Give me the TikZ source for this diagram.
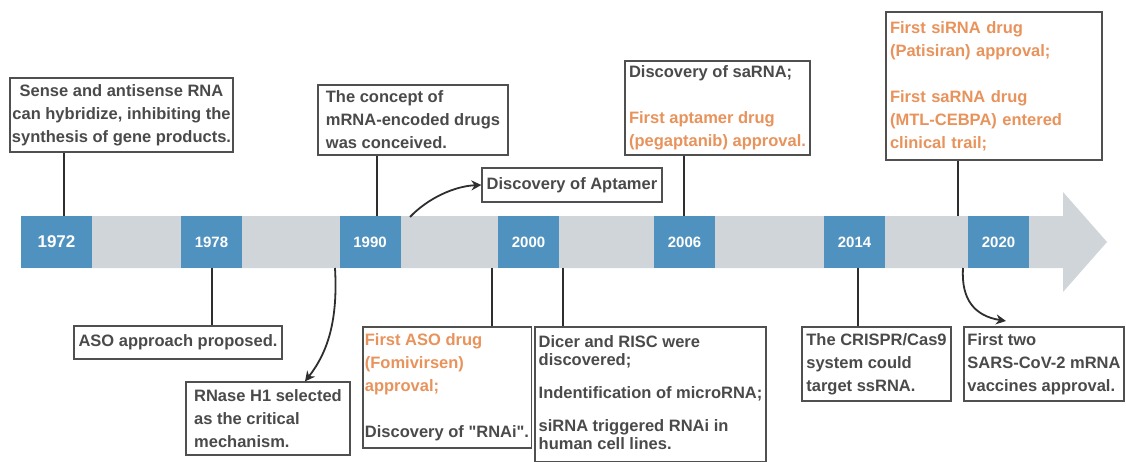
\documentclass[tikz,border=0pt]{standalone}
\usepackage{fontspec}
\setmainfont{Liberation Sans}[Ligatures=TeXOff]
\usepackage{xcolor}
\usetikzlibrary{arrows.meta}
\definecolor{INK}{HTML}{4A4A4A}
\definecolor{EDGE}{HTML}{505050}
\definecolor{STEM}{HTML}{2E2E2E}
\definecolor{BAND}{HTML}{CFD5D9}
\definecolor{YEAR}{HTML}{5092BF}
\definecolor{HILITE}{HTML}{E8935C}

\begin{document}
\begin{tikzpicture}[
    x=1pt, y=-1pt,
    note/.style={draw=EDGE, line width=1.2pt, fill=white, text=INK,
      font=\fontsize{16.5}{23}\selectfont\bfseries, align=left,
      inner xsep=2pt, inner ysep=3pt},
    yearbox/.style={fill=YEAR, text=white, font=\fontsize{15}{16}\selectfont\bfseries,
      minimum width=61pt, minimum height=52pt, inner sep=0pt},
    stem/.style={draw=STEM, line width=1.8pt},
    pointer/.style={draw=STEM, line width=1.8pt, -{Stealth[length=10pt,width=10pt]}},
  ]

  \useasboundingbox (0,0) rectangle (1126,461);

  % --- time arrow ---
  \fill[BAND] (21,216) -- (1063,216) -- (1063,192) -- (1107,242)
    -- (1063,292) -- (1063,268) -- (21,268) -- cycle;

  \node[yearbox, minimum width=71pt, font=\fontsize{17}{18}\selectfont\bfseries]
    (y1972) at (56.5,242) {1972};
  \node[yearbox] (y1978) at (211.5,242) {1978};
  \node[yearbox] (y1990) at (370,242) {1990};
  \node[yearbox] (y2000) at (528.5,242) {2000};
  \node[yearbox] (y2006) at (684.5,242) {2006};
  \node[yearbox] (y2014) at (854.5,242) {2014};
  \node[yearbox] (y2020) at (998.5,242) {2020};

  % --- notes above ---
  \node[note, align=center, minimum width=223pt, minimum height=74pt] (sense) at (121.5,115)
    {Sense and antisense RNA\\can hybridize, inhibiting the\\synthesis of gene products.};
  \node[note, minimum width=190pt, minimum height=70pt] (concept) at (413,120)
    {The concept of\\mRNA-encoded drugs\\was conceived.};
  \node[note, minimum width=180pt, minimum height=34pt] (aptamer) at (572,185)
    {Discovery of Aptamer};
  \node[note, minimum width=185pt, minimum height=94pt] (sarna) at (717.5,108)
    {Discovery of saRNA;\\[23pt]\textcolor{HILITE}{First aptamer drug}\\\textcolor{HILITE}{(pegaptanib) approval.}};
  \node[note, text=HILITE, inner xsep=4pt, text width=208pt, minimum height=148pt] (sirna) at (994,86)
    {First siRNA drug\\(Patisiran) approval;\\[23pt]First saRNA drug\\(MTL-CEBPA) entered\\clinical trail;};

  % --- notes below ---
  \node[note, minimum width=208pt, minimum height=33pt] (aso) at (178,342.5)
    {ASO approach proposed.};
  \node[note, minimum width=164pt, minimum height=73pt] (rnase) at (268,418.5)
    {RNase H1 selected\\as the critical\\mechanism.};
  \node[note, minimum width=166pt, minimum height=121pt] (fomi) at (447,387.5)
    {\textcolor{HILITE}{First ASO drug}\\\textcolor{HILITE}{(Fomivirsen)}\\\textcolor{HILITE}{approval;}\\[23pt]Discovery of "RNAi".};
  \node[note, minimum width=231pt, minimum height=135pt,
    font=\fontsize{16.5}{18}\selectfont\bfseries] (dicer) at (650.5,394.5)
    {Dicer and RISC were\\discovered;\\[15pt]Indentification of microRNA;\\[15pt]siRNA triggered RNAi in\\human cell lines.\\[-14pt]\mbox{}};
  \node[note, minimum width=149pt, minimum height=74pt] (crispr) at (876.5,364)
    {The CRISPR/Cas9\\system could\\target ssRNA.};
  \node[note, minimum width=160pt, minimum height=74pt] (sars) at (1044,364)
    {First two\\SARS-CoV-2 mRNA\\vaccines approval.};

  % --- stems ---
  \coordinate (s1972) at (64,216);
  \coordinate (s1990) at (377,216);
  \coordinate (s2006) at (684,216);
  \coordinate (s2020) at (958,216);
  \coordinate (s1978) at (212,268);
  \coordinate (s2000a) at (492,268);
  \coordinate (s2000b) at (563,268);
  \coordinate (s2014) at (858,268);
  \draw[stem] (s1972) -- (s1972 |- sense.south);
  \draw[stem] (s1990) -- (s1990 |- concept.south);
  \draw[stem] (s2006) -- (s2006 |- sarna.south);
  \draw[stem] (s2020) -- (s2020 |- sirna.south);
  \draw[stem] (s1978) -- (s1978 |- aso.north);
  \draw[stem] (s2000a) -- (s2000a |- fomi.north);
  \draw[stem] (s2000b) -- (s2000b |- dicer.north);
  \draw[stem] (s2014) -- (s2014 |- crispr.north);

  % curved pointers
  \coordinate (c1990) at (410,217);
  \coordinate (c1978) at (335,268);
  \coordinate (c2020) at (963,268);
  \coordinate (tip2020) at (1006,321);
  \draw[pointer] (c1990) .. controls (428,198) and (455,186) .. (aptamer.west);
  \draw[pointer] (c1978) .. controls (338,320) and (328,352) .. ([xshift=37pt]rnase.north);
  \draw[pointer] (c2020) .. controls (961,300) and (975,316) .. (tip2020);

\end{tikzpicture}
\end{document}
